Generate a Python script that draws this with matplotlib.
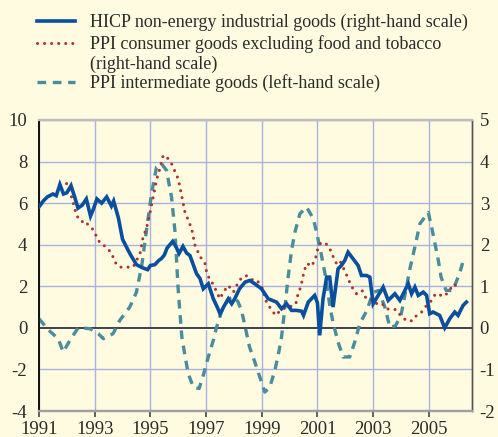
import matplotlib
matplotlib.use("Agg")
import matplotlib.pyplot as plt
import matplotlib.transforms as mtransforms
from matplotlib.lines import Line2D

plt.rcParams['font.family'] = ['Liberation Serif', 'DejaVu Serif']
plt.rcParams['axes.unicode_minus'] = False

# HICP non-energy industrial goods (right-hand scale)
hicp_x = [1991.00, 1991.15, 1991.30, 1991.50, 1991.62, 1991.75, 1991.88, 1992.00, 1992.15, 1992.28,
          1992.40, 1992.55, 1992.70, 1992.85, 1992.95, 1993.08, 1993.25, 1993.43, 1993.60, 1993.68,
          1993.85, 1994.00, 1994.26, 1994.50, 1994.70, 1994.90, 1995.00, 1995.16, 1995.30, 1995.40,
          1995.50, 1995.60, 1995.80, 1995.92, 1996.03, 1996.17, 1996.30, 1996.42, 1996.55, 1996.66,
          1996.78, 1996.90, 1997.08, 1997.26, 1997.40, 1997.50, 1997.66, 1997.80, 1997.92, 1998.03,
          1998.20, 1998.40, 1998.57, 1998.75, 1998.99, 1999.23, 1999.53, 1999.71, 1999.89, 2000.07,
          2000.25, 2000.43, 2000.50, 2000.67, 2000.90, 2001.00, 2001.08, 2001.20, 2001.33, 2001.44,
          2001.56, 2001.74, 2001.86, 2001.98, 2002.10, 2002.28, 2002.46, 2002.58, 2002.76, 2002.88,
          2003.00, 2003.18, 2003.36, 2003.54, 2003.78, 2003.96, 2004.14, 2004.26, 2004.38, 2004.50,
          2004.62, 2004.80, 2004.92, 2005.03, 2005.15, 2005.39, 2005.57, 2005.75, 2005.93, 2006.05,
          2006.23, 2006.35]
hicp_y = [2.91, 3.05, 3.15, 3.22, 3.18, 3.45, 3.22, 3.25, 3.42, 3.15,
          2.88, 2.95, 3.10, 2.69, 2.85, 3.10, 3.00, 3.15, 2.93, 3.05,
          2.65, 2.13, 1.79, 1.52, 1.45, 1.40, 1.50, 1.52, 1.62, 1.67,
          1.75, 1.92, 2.08, 1.95, 1.79, 1.96, 1.80, 1.74, 1.50, 1.30,
          1.19, 0.94, 1.06, 0.70, 0.50, 0.34, 0.54, 0.70, 0.58, 0.70,
          0.94, 1.10, 1.14, 1.06, 0.94, 0.70, 0.62, 0.46, 0.58, 0.42,
          0.42, 0.40, 0.30, 0.62, 0.78, 0.60, -0.18, 0.70, 1.22, 1.22,
          0.50, 1.42, 1.50, 1.62, 1.82, 1.66, 1.50, 1.26, 1.26, 1.22,
          0.58, 0.78, 0.98, 0.66, 0.82, 0.66, 0.90, 1.06, 0.82, 0.98,
          0.78, 0.86, 0.78, 0.34, 0.38, 0.30, 0.00, 0.22, 0.38, 0.30,
          0.54, 0.62]

# PPI consumer goods excluding food and tobacco (right-hand scale)
ppic_x = [1991.99, 1992.17, 1992.35, 1992.53, 1992.65, 1992.77, 1992.95, 1993.07, 1993.20, 1993.43,
          1993.61, 1993.73, 1993.90, 1994.14, 1994.38, 1994.63, 1994.74, 1994.86, 1994.98, 1995.10,
          1995.22, 1995.34, 1995.46, 1995.58, 1995.76, 1996.00, 1996.12, 1996.24, 1996.36, 1996.48,
          1996.60, 1996.78, 1996.96, 1997.02, 1997.14, 1997.26, 1997.38, 1997.50, 1997.62, 1997.80,
          1997.98, 1998.10, 1998.24, 1998.43, 1998.63, 1998.81, 1998.99, 1999.17, 1999.33, 1999.50,
          1999.67, 1999.89, 2000.07, 2000.22, 2000.28, 2000.39, 2000.46, 2000.52, 2000.63, 2000.79,
          2000.93, 2001.00, 2001.12, 2001.30, 2001.44, 2001.56, 2001.68, 2001.80, 2001.98, 2002.10,
          2002.22, 2002.40, 2002.60, 2002.73, 2002.86, 2003.06, 2003.30, 2003.48, 2003.66, 2003.82,
          2003.98, 2004.20, 2004.41, 2004.56, 2004.74, 2004.92, 2005.10, 2005.24, 2005.45, 2005.57,
          2005.73, 2005.90, 2006.10]
ppic_y = [3.47, 3.15, 2.70, 2.55, 2.58, 2.47, 2.36, 2.19, 2.03, 1.94,
          1.79, 1.58, 1.46, 1.46, 1.46, 1.79, 2.19, 2.39, 2.75, 3.15,
          3.55, 3.83, 4.15, 4.12, 3.95, 3.58, 3.19, 2.79, 2.59, 2.39,
          1.99, 1.72, 1.55, 1.34, 1.14, 1.05, 0.86, 0.70, 0.86, 1.02,
          0.86, 1.02, 1.17, 1.26, 1.16, 1.16, 1.00, 0.62, 0.45, 0.30,
          0.42, 0.50, 0.52, 0.57, 0.76, 0.97, 1.16, 1.37, 1.55, 1.48,
          1.67, 1.87, 2.05, 2.03, 1.91, 1.72, 1.55, 1.62, 1.37, 1.19,
          1.00, 0.82, 0.90, 0.73, 0.73, 0.58, 0.60, 0.46, 0.44, 0.44,
          0.30, 0.17, 0.17, 0.30, 0.38, 0.54, 0.66, 0.82, 0.78, 0.76,
          0.90, 1.05, 0.94]

# PPI intermediate goods (left-hand scale)
ppii_x = [1991.00, 1991.33, 1991.69, 1991.87, 1992.11, 1992.41, 1992.83, 1993.13, 1993.31, 1993.66,
          1993.90, 1994.26, 1994.50, 1994.69, 1994.86, 1995.04, 1995.22, 1995.40, 1995.58, 1995.76,
          1995.88, 1996.00, 1996.13, 1996.24, 1996.36, 1996.54, 1996.75, 1996.90, 1997.08, 1997.26,
          1997.38, 1997.55, 1997.80, 1998.03, 1998.15, 1998.27, 1998.38, 1998.56, 1998.75, 1998.93,
          1999.11, 1999.29, 1999.47, 1999.59, 1999.71, 1999.82, 1999.94, 2000.07, 2000.19, 2000.37,
          2000.61, 2000.85, 2000.97, 2001.15, 2001.30, 2001.45, 2001.57, 2001.74, 2001.92, 2002.16,
          2002.34, 2002.52, 2002.76, 2003.00, 2003.20, 2003.42, 2003.60, 2003.80, 2004.00, 2004.14,
          2004.32, 2004.50, 2004.68, 2004.98, 2005.10, 2005.22, 2005.34, 2005.44, 2005.62, 2005.86,
          2006.10, 2006.25]
ppii_y = [0.44, -0.09, -0.52, -1.16, -0.60, 0.01, -0.04, -0.28, -0.52, -0.28,
          0.36, 1.00, 1.72, 3.00, 4.69, 6.45, 7.73, 7.90, 7.57, 6.29,
          4.69, 1.80, -0.44, -1.32, -2.20, -2.85, -2.92, -2.28, -1.40, -0.60,
          0.04, 0.76, 1.40, 1.48, 1.24, 0.84, 0.20, -0.92, -1.64, -2.37,
          -3.09, -2.85, -2.04, -1.32, -0.44, 0.84, 2.37, 3.73, 4.60, 5.49,
          5.81, 5.25, 4.60, 3.45, 2.40, 1.00, 0.20, -0.68, -1.40, -1.40,
          -0.68, 0.20, 0.80, 1.70, 1.80, 1.00, 0.02, 0.10, 0.60, 1.56,
          2.85, 3.90, 5.01, 5.55, 4.85, 4.05, 3.25, 2.44, 1.80, 1.80,
          2.60, 3.30]

year_ticks = [1991, 1993, 1995, 1997, 1999, 2001, 2003, 2005]
left_ticks = [-4, -2, 0, 2, 4, 6, 8, 10]
right_ticks = [-2, -1, 0, 1, 2, 3, 4, 5]

labels = ["HICP non-energy industrial goods (right-hand scale)",
          "PPI consumer goods excluding food and tobacco\n(right-hand scale)",
          "PPI intermediate goods (left-hand scale)"]

bg = '#fefbe0'
blue = '#0a4f9e'
red = '#b0322e'
teal = '#4a8c9c'
grid_c = '#a9b2e2'
txt = '#2b2b2b'

fig = plt.figure(figsize=(4.98, 4.37), dpi=100, facecolor=bg)
ax = fig.add_axes([39 / 498, 1 - 411 / 437, 433 / 498, 291 / 437])
ax.set_facecolor(bg)
ax2 = ax.twinx()
ax2.patch.set_visible(False)

ax.set_xlim(1991, 2006.55)
ax.set_ylim(-4, 10)
ax2.set_ylim(-2, 5)

ax.set_xticks(year_ticks)
ax.set_yticks(left_ticks)
ax2.set_yticks(right_ticks)
ax.grid(True, color=grid_c, lw=1.0)
ax.set_axisbelow(True)

# zero line with a white shadow below it
shadow = mtransforms.offset_copy(ax.get_yaxis_transform(), fig=fig, x=0, y=-1.5, units='dots')
ax.plot([0, 1], [0, 0], transform=shadow, color='white', lw=1.6, zorder=1.5)
ax.axhline(0, color='#333333', lw=1.3, zorder=1.6)

ax.plot(ppii_x, ppii_y, color=teal, lw=2.4, dashes=(2.6, 2.0), zorder=3)
ax2.plot(ppic_x, ppic_y, color=red, lw=2.2, dashes=(0.01, 2.3),
         dash_capstyle='round', zorder=3)
ax2.plot(hicp_x, hicp_y, color=blue, lw=2.6, solid_joinstyle='miter', zorder=4)

for a in (ax, ax2):
    a.spines['top'].set_color('#bdbdbd')
    a.spines['top'].set_linewidth(1.6)
    a.spines['bottom'].set_color('#a0a0a0')
    a.spines['bottom'].set_linewidth(1.6)
    a.spines['left'].set_color('#111111')
    a.spines['left'].set_linewidth(1.2)
    a.spines['right'].set_color('#555555')
    a.spines['right'].set_linewidth(1.0)

ax.tick_params(axis='x', direction='out', length=4, width=1.2, color='#444444',
               labelsize=13.5, labelcolor=txt, pad=3)
ax.tick_params(axis='y', length=0, labelsize=13.5, labelcolor=txt, pad=8.5)
ax2.tick_params(axis='y', length=0, labelsize=13.5, labelcolor=txt, pad=5.5)

# legend drawn by hand at the top of the figure
def fx(px):
    return px / 498

def fy(py):
    return 1 - py / 437

handles = [dict(color=blue, lw=2.6, ls='-'),
           dict(color=red, lw=2.2, dashes=(0.01, 2.3), dash_capstyle='round'),
           dict(color=teal, lw=2.4, dashes=(2.6, 2.0))]
rows = [21, 43, 82]
for h, lab, y in zip(handles, labels, rows):
    fig.add_artist(Line2D([fx(37), fx(75)], [fy(y), fy(y)], transform=fig.transFigure, **h))
    lines = lab.split("\n")
    for k, line in enumerate(lines):
        fig.text(fx(90), fy(y + 6 + 19.5 * k), line, ha='left', va='baseline',
                 fontsize=13, color=txt)

fig.savefig("out.png", dpi=100, facecolor=bg)
